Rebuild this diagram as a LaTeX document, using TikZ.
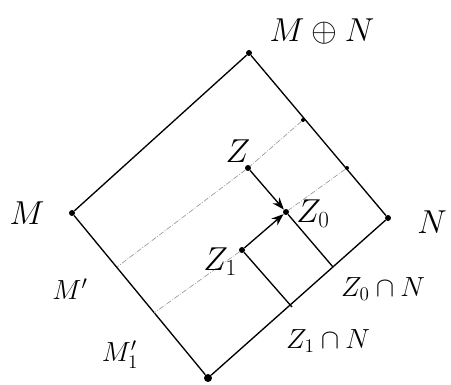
\documentclass[tikz,border=0pt]{standalone}
\usepackage{amsmath,amssymb}
\usepackage{tikz}
\usetikzlibrary{arrows.meta}

\begin{document}
\begin{tikzpicture}[
  x=0.75pt, y=-0.75pt,
  dot/.style={circle, fill=black, inner sep=0pt, minimum size=4.5pt},
  side/.style={line width=1pt, line join=round},
  trace/.style={line width=0.5pt, color=black!40, dash pattern=on 4pt off 1.2pt on 0.6pt off 1.2pt},
  leg/.style={line width=1pt},
  arr/.style={-{Stealth[length=3.2mm, width=2.4mm]}, line width=1pt},
  big/.style={font=\fontsize{29}{32}\selectfont},
  mid/.style={font=\fontsize{23}{26}\selectfont},
  small/.style={font=\fontsize{20}{22}\selectfont}
]
\useasboundingbox (0,0) rectangle (451,385);
% corners of the square
\node[dot] (sum) at (249,53) {};
\node[dot] (m) at (72,213) {};
\node[dot] (n) at (388,218) {};
\node[dot, minimum size=6pt] (bot) at (208,378) {};
\draw[side] (m) -- (sum) -- (n) -- (bot) -- (m);
% points on the edges
\node[dot, minimum size=3pt] (pa) at (303,120) {};
\node[dot, minimum size=3pt] (pb) at (347,168) {};
\coordinate (mp) at (117,267);
\coordinate (mq) at (154,313);
\coordinate (za) at (333,267);
\coordinate (zb) at (292,307);
% Z, Z_0, Z_1
\node[dot] (z) at (248,168) {};
\node[dot] (z0) at (286,212) {};
\node[dot] (z1) at (242,250) {};
\draw[trace] (pa) -- (z) -- (mp);
\draw[trace] (pb) -- (z0);
\draw[trace] (z1) -- (mq);
\draw[arr] (z) -- (z0);
\draw[arr] (z1) -- (z0);
\draw[leg] (z0) -- (za);
\draw[leg] (z1) -- (zb);
% labels
\node[big] (lsum) at (322,32) {$M\oplus N$};
\node[big] (lm) at (27,213) {$M$};
\node[big] (ln) at (432,222) {$N$};
\node[mid] (lz) at (238,151) {$Z$};
\node[mid] (lz0) at (313,214) {$Z_0$};
\node[mid] (lz1) at (220,262) {$Z_1$};
\node[small] (lza) at (383,289) {$Z_0\cap N$};
\node[small] (lzb) at (328,341) {$Z_1\cap N$};
\node[small] (lmp) at (70,289) {$M'$};
\node[small] (lmq) at (120,355) {$M_1'$};
\end{tikzpicture}
\end{document}
